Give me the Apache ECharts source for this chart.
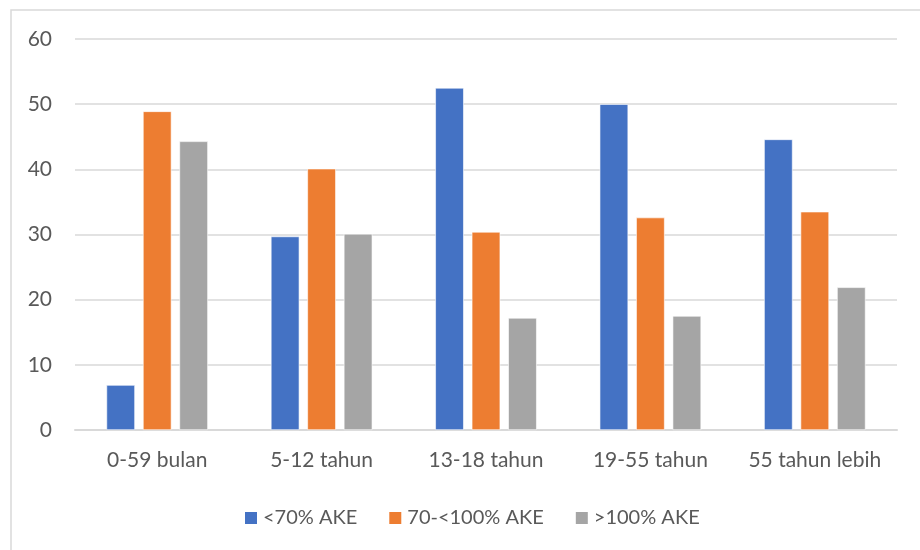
<!DOCTYPE html>
<html>
<head>
<meta charset="utf-8">
<script src="https://cdn.jsdelivr.net/npm/echarts@6/dist/echarts.min.js"></script>
<style>html,body{margin:0;padding:0;background:#fff}#c{width:920px;height:550px}</style>
</head>
<body>
<div id="c"></div>
<script>
const categories = ['0-59 bulan', '5-12 tahun', '13-18 tahun', '19-55 tahun', '55 tahun lebih'];
const seriesNames = ['<70% AKE', '70-<100% AKE', '>100% AKE'];
const below70 = [6.9, 29.7, 52.5, 50.0, 44.6];
const from70to100 = [48.9, 40.1, 30.4, 32.6, 33.5];
const above100 = [44.3, 30.1, 17.2, 17.5, 21.9];
const colors = ['#4472C4', '#ED7D31', '#A5A5A5'];
const FONT = 'Lato, "Open Sans", sans-serif';

const chart = echarts.init(document.getElementById('c'), null, {renderer: 'canvas'});
const mk = (name, data, i) => ({
  name: name, type: 'bar', data: data, barWidth: 28.5, barGap: '28%',
  itemStyle: {color: colors[i], borderColor: '#ffffff', borderWidth: 0.6},
  emphasis: {disabled: true}
});
chart.setOption({
  animation: false,
  backgroundColor: '#ffffff',
  textStyle: {fontFamily: FONT},
  graphic: [{
    type: 'rect', shape: {x: 11, y: 10, width: 1200, height: 1200},
    style: {fill: 'none', stroke: '#d9d9d9', lineWidth: 1.5}, silent: true
  }],
  grid: {left: 75, right: 23, top: 39, bottom: 120, containLabel: false},
  legend: {
    left: 238, top: 503, itemWidth: 14, itemHeight: 14, itemGap: 30,
    icon: 'rect',
    textStyle: {color: '#595959', fontSize: 20, fontFamily: FONT},
    data: seriesNames
  },
  xAxis: {
    type: 'category', data: categories,
    axisLine: {show: true, lineStyle: {color: '#d9d9d9', width: 2}},
    axisTick: {show: false},
    axisLabel: {color: '#595959', fontSize: 21, margin: 20, fontFamily: FONT, interval: 0, hideOverlap: false}
  },
  yAxis: {
    type: 'value', min: 0, max: 60, interval: 10,
    axisLine: {show: false}, axisTick: {show: false},
    splitLine: {lineStyle: {color: '#d9d9d9', width: 1.5}},
    axisLabel: {color: '#595959', fontSize: 21, margin: 23, fontFamily: FONT}
  },
  series: [mk(seriesNames[0], below70, 0), mk(seriesNames[1], from70to100, 1), mk(seriesNames[2], above100, 2)]
});
</script>
</body>
</html>
